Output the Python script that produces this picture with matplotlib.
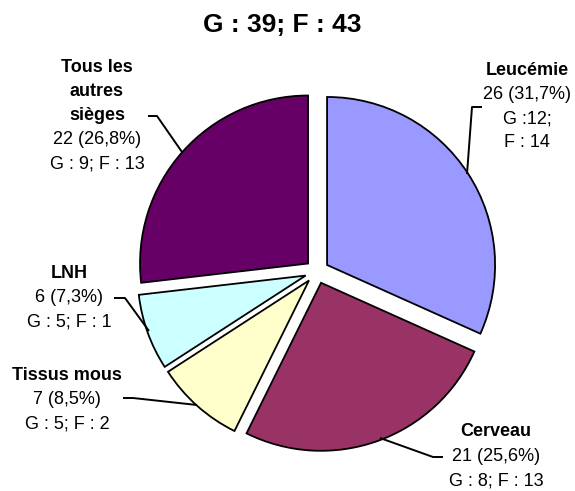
import matplotlib
matplotlib.use("Agg")
import matplotlib.pyplot as plt

plt.rcParams['font.family'] = ['Liberation Sans', 'DejaVu Sans']

# ---- data ----
categories = ["Leucémie", "Cerveau", "Tissus mous", "LNH", "Tous les autres sièges"]
values = [26, 21, 7, 6, 22]
garcons = [12, 8, 5, 5, 9]
filles = [14, 13, 2, 1, 13]
title = "G : 39; F : 43"
colors = ["#9999FF", "#993366", "#FFFFCC", "#CCFFFF", "#660066"]

# label layout: bold lines, normal lines (text as in the chart)
total = sum(values)
pcts = [f"{v} ({100*v/total:.1f}%)".replace(".", ",") for v in values]
bold_lines = [["Leucémie"], ["Cerveau"], ["Tissus mous"], ["LNH"], ["Tous les", "autres", "sièges"]]
gender_lines = [
    [f"G :{garcons[0]};", f"F : {filles[0]}"],
    [f"G : {garcons[1]}; F : {filles[1]}"],
    [f"G : {garcons[2]}; F : {filles[2]}"],
    [f"G : {garcons[3]}; F : {filles[3]}"],
    [f"G : {garcons[4]}; F : {filles[4]}"],
]

W, H = 575, 491
fig = plt.figure(figsize=(W / 100, H / 100), dpi=100)
ax = fig.add_axes([0, 0, 1, 1])

def Y(y_img):
    return H - y_img

ax.pie(values, colors=colors, startangle=90, counterclock=False,
       center=(317, Y(271.5)), radius=168, explode=[12] * len(values),
       wedgeprops=dict(edgecolor="black", linewidth=1.3), frame=False)

ax.set_xlim(0, W)
ax.set_ylim(0, H)
ax.set_aspect("equal")
ax.axis("off")

# label positions (x center, first line y) and line spacing
label_pos = [(527, 70), (496, 432), (67, 375), (69, 273), (97, 67)]
spacing = 24.3
for i in range(len(values)):
    x0, y0 = label_pos[i]
    lines = [(t, "bold") for t in bold_lines[i]] + [(pcts[i], "normal")] + \
            [(t, "normal") for t in gender_lines[i]]
    for k, (t, w) in enumerate(lines):
        ax.text(x0, Y(y0 + k * spacing), t, ha="center", va="center",
                fontsize=13, fontweight=w, color="black")

# leader lines
leaders = [
    [(482, 107), (472, 107), (467, 174)],
    [(443, 457), (433, 457), (380, 438)],
    [(123, 398), (133, 398), (197, 405)],
    [(114, 298), (125, 298), (149, 331)],
    [(148, 116), (157, 116), (182, 152)],
]
for pts in leaders:
    ax.plot([p[0] for p in pts], [Y(p[1]) for p in pts], color="black", lw=1.4,
            solid_capstyle="butt")

ax.text(282, Y(25), title, ha="center", va="center", fontsize=19, fontweight="bold")

fig.savefig("out.png", dpi=100)
